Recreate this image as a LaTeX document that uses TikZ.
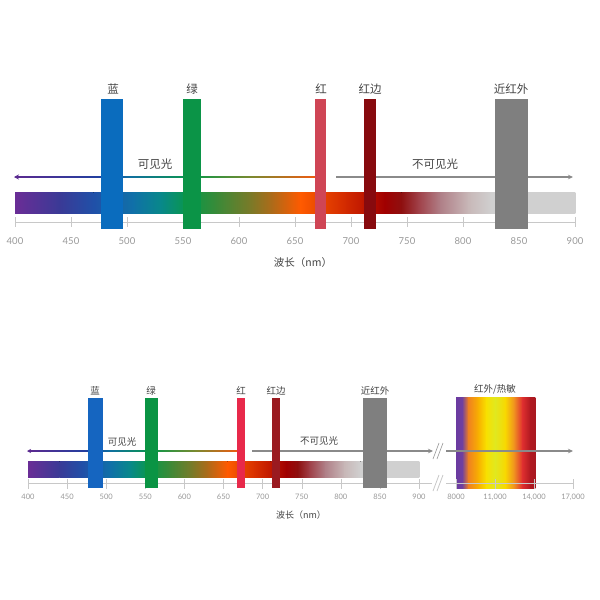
\documentclass[tikz,border=0pt]{standalone}
\usepackage{fontspec}
\setmainfont{Lato}
\newfontfamily\cjk{Noto Sans CJK SC}
\usetikzlibrary{arrows.meta}
\definecolor{s0}{HTML}{6A2D96}
\definecolor{s1}{HTML}{3A3A96}
\definecolor{s2}{HTML}{2050A8}
\definecolor{s3}{HTML}{1070A8}
\definecolor{s4}{HTML}{08888A}
\definecolor{s5}{HTML}{0A9848}
\definecolor{s6}{HTML}{3A8A38}
\definecolor{s7}{HTML}{7A7A28}
\definecolor{s8}{HTML}{B06A18}
\definecolor{s9}{HTML}{FF5A00}
\definecolor{s10}{HTML}{F05000}
\definecolor{s11}{HTML}{D83000}
\definecolor{s12}{HTML}{C01800}
\definecolor{s13}{HTML}{A00000}
\definecolor{s14}{HTML}{8E1010}
\definecolor{s15}{HTML}{A04048}
\definecolor{s16}{HTML}{B08088}
\definecolor{s17}{HTML}{C8B8B8}
\definecolor{s18}{HTML}{D0D0D0}
\definecolor{s19}{HTML}{D0D0D0}
\definecolor{i0}{HTML}{6A3AA0}
\definecolor{i1}{HTML}{7040A0}
\definecolor{i2}{HTML}{F08020}
\definecolor{i3}{HTML}{F8B000}
\definecolor{i4}{HTML}{F8E000}
\definecolor{i5}{HTML}{E0E820}
\definecolor{i6}{HTML}{F8D800}
\definecolor{i7}{HTML}{F09020}
\definecolor{i8}{HTML}{E03030}
\definecolor{i9}{HTML}{B01820}
\definecolor{i10}{HTML}{A81820}
\definecolor{v0}{HTML}{5A2A90}
\definecolor{v1}{HTML}{2040A0}
\definecolor{v2}{HTML}{1070A0}
\definecolor{v3}{HTML}{0A9848}
\definecolor{v4}{HTML}{7A8A30}
\definecolor{v5}{HTML}{F05A10}
\definecolor{blueA}{HTML}{0A6CBE}
\definecolor{greenA}{HTML}{0B9447}
\definecolor{redA}{HTML}{CF4555}
\definecolor{dredA}{HTML}{870A0E}
\definecolor{blueB}{HTML}{1565C0}
\definecolor{greenB}{HTML}{0A9444}
\definecolor{redB}{HTML}{E8294A}
\definecolor{dredB}{HTML}{9A1A20}
\definecolor{nirgray}{HTML}{7F7F7F}
\definecolor{axisc}{HTML}{C8C8C8}
\definecolor{tickc}{HTML}{999999}
\definecolor{labelc}{HTML}{444444}
\definecolor{arrowgray}{HTML}{8A8A8A}
\begin{document}
\begin{tikzpicture}[x=1pt,y=-1pt,
  lblA/.style={font=\cjk\fontsize{11.5}{12}\selectfont, text=labelc, inner sep=0},
  lblB/.style={font=\cjk\fontsize{9.5}{10}\selectfont, text=labelc, inner sep=0},
  tickA/.style={font=\fontsize{9.5}{10}\selectfont, text=tickc, inner sep=0},
  tickB/.style={font=\fontsize{7.5}{8}\selectfont, text=tickc, inner sep=0},
  axisline/.style={draw=axisc, line width=1},
  band/.style={inner sep=0, outer sep=0, draw=none},
  grayarrow/.style={draw=arrowgray, -{Stealth[length=5,width=4.5]}}
]
\useasboundingbox (0,0) rectangle (600,600);
\fill[white] (0,0) rectangle (600,600);

% ================= TOP DIAGRAM =================
\draw[axisline] (15,222) -- (575,222);
\foreach \v [count=\i from 0] in {400,450,...,900} {
  \draw[axisc] ({15+\i*56},217) -- ({15+\i*56},227);
  \node[tickA] (ta\v) at ({15+\i*56},241) {\v};
}
% spectrum bar
\foreach \a/\b/\ca/\cb in {400/440/s0/s1,440/470/s1/s2,470/505/s2/s3,505/530/s3/s4,530/555/s4/s5,555/580/s5/s6,580/610/s6/s7,610/630/s7/s8,630/655/s8/s9,655/665/s9/s10,665/690/s10/s11,690/710/s11/s12,710/730/s12/s13,730/745/s13/s14,745/760/s14/s15,760/780/s15/s16,780/805/s16/s17,805/825/s17/s18,825/900/s18/s19} {
  \fill[left color=\ca, right color=\cb] ({15+(\a-400)*1.12},192) rectangle ({15.4+(\b-400)*1.12},213);
}
% visible light arrow (gradient)
\foreach \a/\b/\ca/\cb in {17/100/v0/v1,100/130/v1/v2,130/192/v2/v3,192/250/v3/v4,250/315/v4/v5} {
  \fill[left color=\ca, right color=\cb] (\a,176.2) rectangle ({\b+0.4},177.8);
}
\coordinate (vaL) at (14,177);
\coordinate (vaS) at (20,177);
\draw[draw=v0, line width=1.6, -{Stealth[length=5,width=5]}] (vaS) -- (vaL);
\node[lblA] (visA) at (155,164) {可见光};
% invisible light arrow
\coordinate (iaS) at (336,177);
\coordinate (iaE) at (573,177);
\draw[grayarrow, line width=1.6] (iaS) -- (iaE);
\node[lblA] (invA) at (435,164) {不可见光};
% bands
\node[band, fill=blueA, minimum width=22, minimum height=130] (bA) at (112,164) {};
\node[band, fill=greenA, minimum width=18, minimum height=130] (gA) at (192,164) {};
\node[band, fill=redA, minimum width=11, minimum height=130] (rA) at (320.5,164) {};
\node[band, fill=dredA, minimum width=12, minimum height=130] (dA) at (370,164) {};
\node[band, fill=nirgray, minimum width=33, minimum height=130] (nA) at (511.5,164) {};
\node[lblA] (lbA) at (113,89) {蓝};
\node[lblA] (lgA) at (192,89) {绿};
\node[lblA] (lrA) at (321,89) {红};
\node[lblA] (ldA) at (370,89) {红边};
\node[lblA] (lnA) at (511,89) {近红外};
\node[lblA, font=\cjk\fontsize{10.5}{11}\selectfont] (xA) at (303,263) {波长（nm）};

% ================= BOTTOM DIAGRAM =================
\draw[axisline] (28,483) -- (432,483);
\foreach \v [count=\i from 0] in {400,450,...,900} {
  \draw[axisc] ({28+\i*39.1},479) -- ({28+\i*39.1},489);
  \node[tickB] (tb\v) at ({28+\i*39.1},497) {\v};
}
% spectrum bar
\foreach \a/\b/\ca/\cb in {400/440/s0/s1,440/470/s1/s2,470/505/s2/s3,505/530/s3/s4,530/555/s4/s5,555/580/s5/s6,580/610/s6/s7,610/630/s7/s8,630/655/s8/s9,655/665/s9/s10,665/690/s10/s11,690/710/s11/s12,710/730/s12/s13,730/745/s13/s14,745/760/s14/s15,760/780/s15/s16,780/805/s16/s17,805/825/s17/s18,825/900/s18/s19} {
  \fill[left color=\ca, right color=\cb] ({28+(\a-400)*0.782},461) rectangle ({28.4+(\b-400)*0.782},477);
}
% visible arrow
\foreach \a/\b/\ca/\cb in {30/88/v0/v1,88/110/v1/v2,110/152/v2/v3,152/195/v3/v4,195/238/v4/v5} {
  \fill[left color=\ca, right color=\cb] (\a,450.4) rectangle ({\b+0.4},451.6);
}
\coordinate (vbL) at (27,451);
\coordinate (vbS) at (32,451);
\draw[draw=v0, line width=1.2, -{Stealth[length=4,width=4]}] (vbS) -- (vbL);
\node[lblB] (visB) at (122,442) {可见光};
% invisible arrow, first part
\coordinate (ibS) at (252,451);
\coordinate (ibM) at (433,451);
\draw[grayarrow, line width=1.2] (ibS) -- (ibM);
\node[lblB] (invB) at (319,441) {不可见光};
% break marks
\draw[draw=tickc, line width=0.6] (433,459) -- (439,443) (437,459) -- (443,443);
\draw[draw=axisc, line width=0.8] (433,491) -- (439,475) (437,491) -- (443,475);
% bands
\node[band, fill=blueB, minimum width=15, minimum height=90] (bB) at (95.5,443) {};
\node[band, fill=greenB, minimum width=13, minimum height=90] (gB) at (151.5,443) {};
\node[band, fill=redB, minimum width=8, minimum height=90] (rB) at (241,443) {};
\node[band, fill=dredB, minimum width=8, minimum height=90] (dB) at (276,443) {};
\node[band, fill=nirgray, minimum width=24, minimum height=90] (nB) at (375,443) {};
% IR / thermal box
\foreach \a/\b/\ca/\cb in {456/462/i0/i1,462/468/i1/i2,468/478/i2/i3,478/486/i3/i4,486/495/i4/i5,495/505/i5/i6,505/514/i6/i7,514/522/i7/i8,522/530/i8/i9,530/535/i9/i10} {
  \fill[left color=\ca, right color=\cb] (\a,397) rectangle ({\b+0.4},488);
}
\node[band, minimum width=79, minimum height=91] (irB) at (495.5,442.5) {};
% second axis and arrow
\draw[axisline] (446,483) -- (573,483);
\foreach \x in {456,495,534,573} {
  \draw[axisc] (\x,479) -- (\x,489);
}
\node[tickB] (tk1) at (456,497) {8000};
\node[tickB] (tk2) at (495,497) {11,000};
\node[tickB] (tk3) at (534,497) {14,000};
\node[tickB] (tk4) at (573,497) {17,000};
\coordinate (ibR) at (446,451);
\coordinate (ibE) at (573,451);
\draw[grayarrow, line width=1.2] (ibR) -- (ibE);
% labels
\node[lblB] (lbB) at (95,391) {蓝};
\node[lblB] (lgB) at (151,391) {绿};
\node[lblB] (lrB) at (241,391) {红};
\node[lblB] (ldB) at (276,391) {红边};
\node[lblB] (lnB) at (375,391) {近红外};
\node[lblB] (liB) at (495,389) {红外/热敏};
\node[lblB, font=\cjk\fontsize{9}{10}\selectfont] (xB) at (301,515) {波长（nm）};
\end{tikzpicture}
\end{document}
